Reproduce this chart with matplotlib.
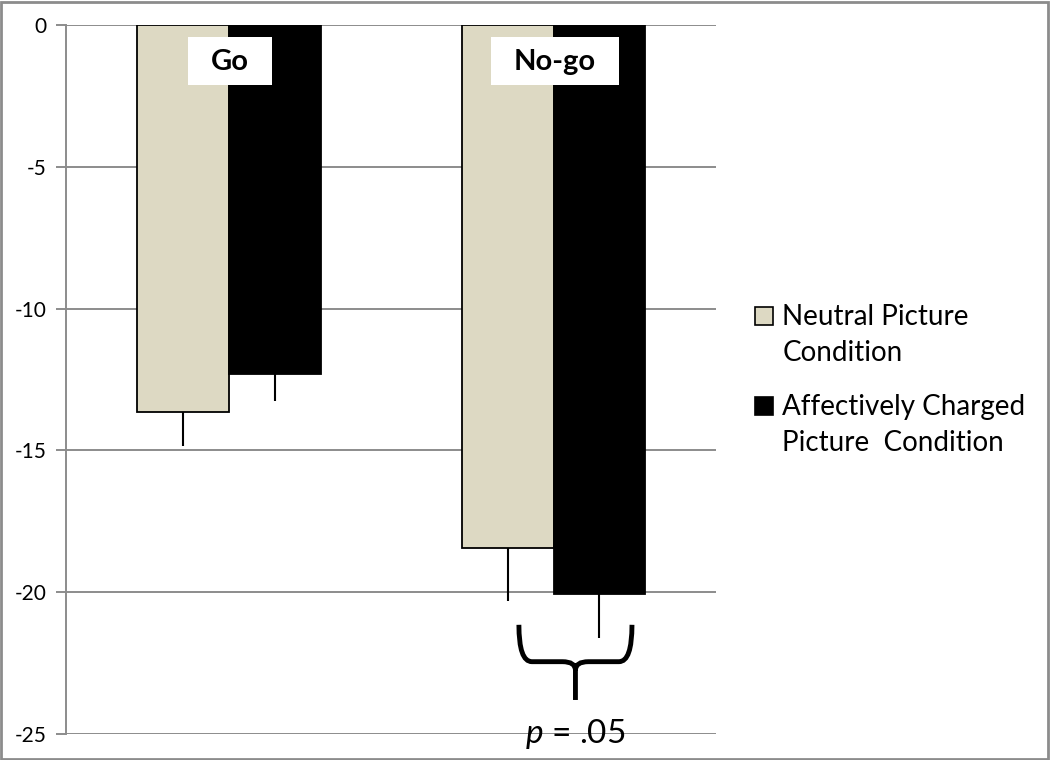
import numpy as np
import matplotlib
matplotlib.use('Agg')
import matplotlib.pyplot as plt
from matplotlib.path import Path
from matplotlib.patches import PathPatch, Rectangle

# data
conditions = ['Go', 'No-go']
series_names = ['Neutral Picture\nCondition', 'Affectively Charged\nPicture  Condition']
series_colors = ['#ddd9c3', 'black']
neutral = [-13.65, -18.45]
affective = [-12.3, -20.05]
neutral_err = [1.2, 1.85]
affective_err = [0.95, 1.55]
yticks = [0, -5, -10, -15, -20, -25]

plt.rcParams['font.family'] = ['Lato', 'DejaVu Sans']
plt.rcParams['axes.unicode_minus'] = False
plt.rcParams['mathtext.fontset'] = 'custom'
plt.rcParams['mathtext.it'] = 'Lato:italic'
plt.rcParams['mathtext.rm'] = 'Lato'

fig = plt.figure(figsize=(10.5, 7.6), dpi=100)
ax = fig.add_axes([0.0629, 0.0342, 0.6190, 0.9330])

x = np.arange(len(conditions))
w = 0.283
grey = '#8c8c8c'

for y in yticks:
    ax.axhline(y, color=grey, lw=1.4, zorder=0)

ax.bar(x - w / 2, neutral, w, color=series_colors[0], edgecolor='black', lw=1.3, zorder=2)
ax.bar(x + w / 2, affective, w, color=series_colors[1], edgecolor='black', lw=1.3, zorder=2)

# one-sided (downward) error bars, no caps
ax.errorbar(x - w / 2, neutral, yerr=[neutral_err, [0, 0]], fmt='none',
            ecolor='black', elinewidth=1.5, capsize=0, zorder=1)
ax.errorbar(x + w / 2, affective, yerr=[affective_err, [0, 0]], fmt='none',
            ecolor='black', elinewidth=1.5, capsize=0, zorder=1)

ax.set_xlim(-0.5, 1.5)
ax.set_ylim(-25, 0)
ax.set_yticks(yticks)
ax.set_xticks([])
ax.tick_params(axis='y', length=7, width=1.4, color=grey, labelsize=15, pad=7)
for s in ['top', 'right', 'bottom']:
    ax.spines[s].set_visible(False)
ax.spines['left'].set_color(grey)
ax.spines['left'].set_linewidth(1.4)

# condition labels, white box drawn around the text extent
labels = []
for xi, name in zip(x, conditions):
    labels.append(ax.text(xi + 0.005, -1.3, name, ha='center', va='center',
                          fontsize=21, fontweight='bold', zorder=4))
fig.canvas.draw()
inv = fig.transFigure.inverted()
for t in labels:
    bb = t.get_window_extent()
    (x0, y0), (x1, y1) = inv.transform([(bb.x0 - 23, bb.y0 - 10), (bb.x1 + 23, bb.y1 + 12)])
    ax.add_patch(Rectangle((x0, y0), x1 - x0, y1 - y0, transform=fig.transFigure,
                           fc='white', ec='none', zorder=3, clip_on=False))

# brace under the No-go pair
bx0, bx1 = 1 - w / 2 + 0.035, 1 + w / 2 + 0.1
bc = (bx0 + bx1) / 2
ytop, ymid, ybot = -21.15, -22.45, -23.8
verts = [(bx0, ytop), (bx0, ymid), (bx0 + 0.04, ymid),
         (bc - 0.04, ymid), (bc, ymid), (bc, ymid - 0.3),
         (bc, ybot),
         (bc, ymid - 0.3), (bc, ymid), (bc + 0.04, ymid),
         (bx1 - 0.04, ymid), (bx1, ymid), (bx1, ytop)]
codes = [Path.MOVETO, Path.CURVE3, Path.CURVE3,
         Path.LINETO, Path.CURVE3, Path.CURVE3,
         Path.LINETO,
         Path.MOVETO, Path.CURVE3, Path.CURVE3,
         Path.LINETO, Path.CURVE3, Path.CURVE3]
ax.add_patch(PathPatch(Path(verts, codes), fc='none', ec='black', lw=3.5,
                       capstyle='butt', clip_on=False, zorder=5))
ax.text(bc, -25.0, r'$p$ = .05', ha='center', va='center', fontsize=24,
        clip_on=False, zorder=5)

# legend, handle level with the first line of each label
leg_sq = [0.5836, 0.4658]
leg_txt = [0.600, 0.481]
for name, col, ys, yt in zip(series_names, series_colors, leg_sq, leg_txt):
    fig.patches.append(Rectangle((0.719, ys - 0.0118), 0.0171, 0.0237,
                                 transform=fig.transFigure, fc=col, ec='black', lw=1.2))
    fig.text(0.745, yt, name, ha='left', va='top', fontsize=20, linespacing=1.46)

fig.patches.append(Rectangle((0.001, 0.001), 0.997, 0.997, transform=fig.transFigure,
                             fill=False, ec=grey, lw=2))

fig.savefig('out.png', dpi=100)
